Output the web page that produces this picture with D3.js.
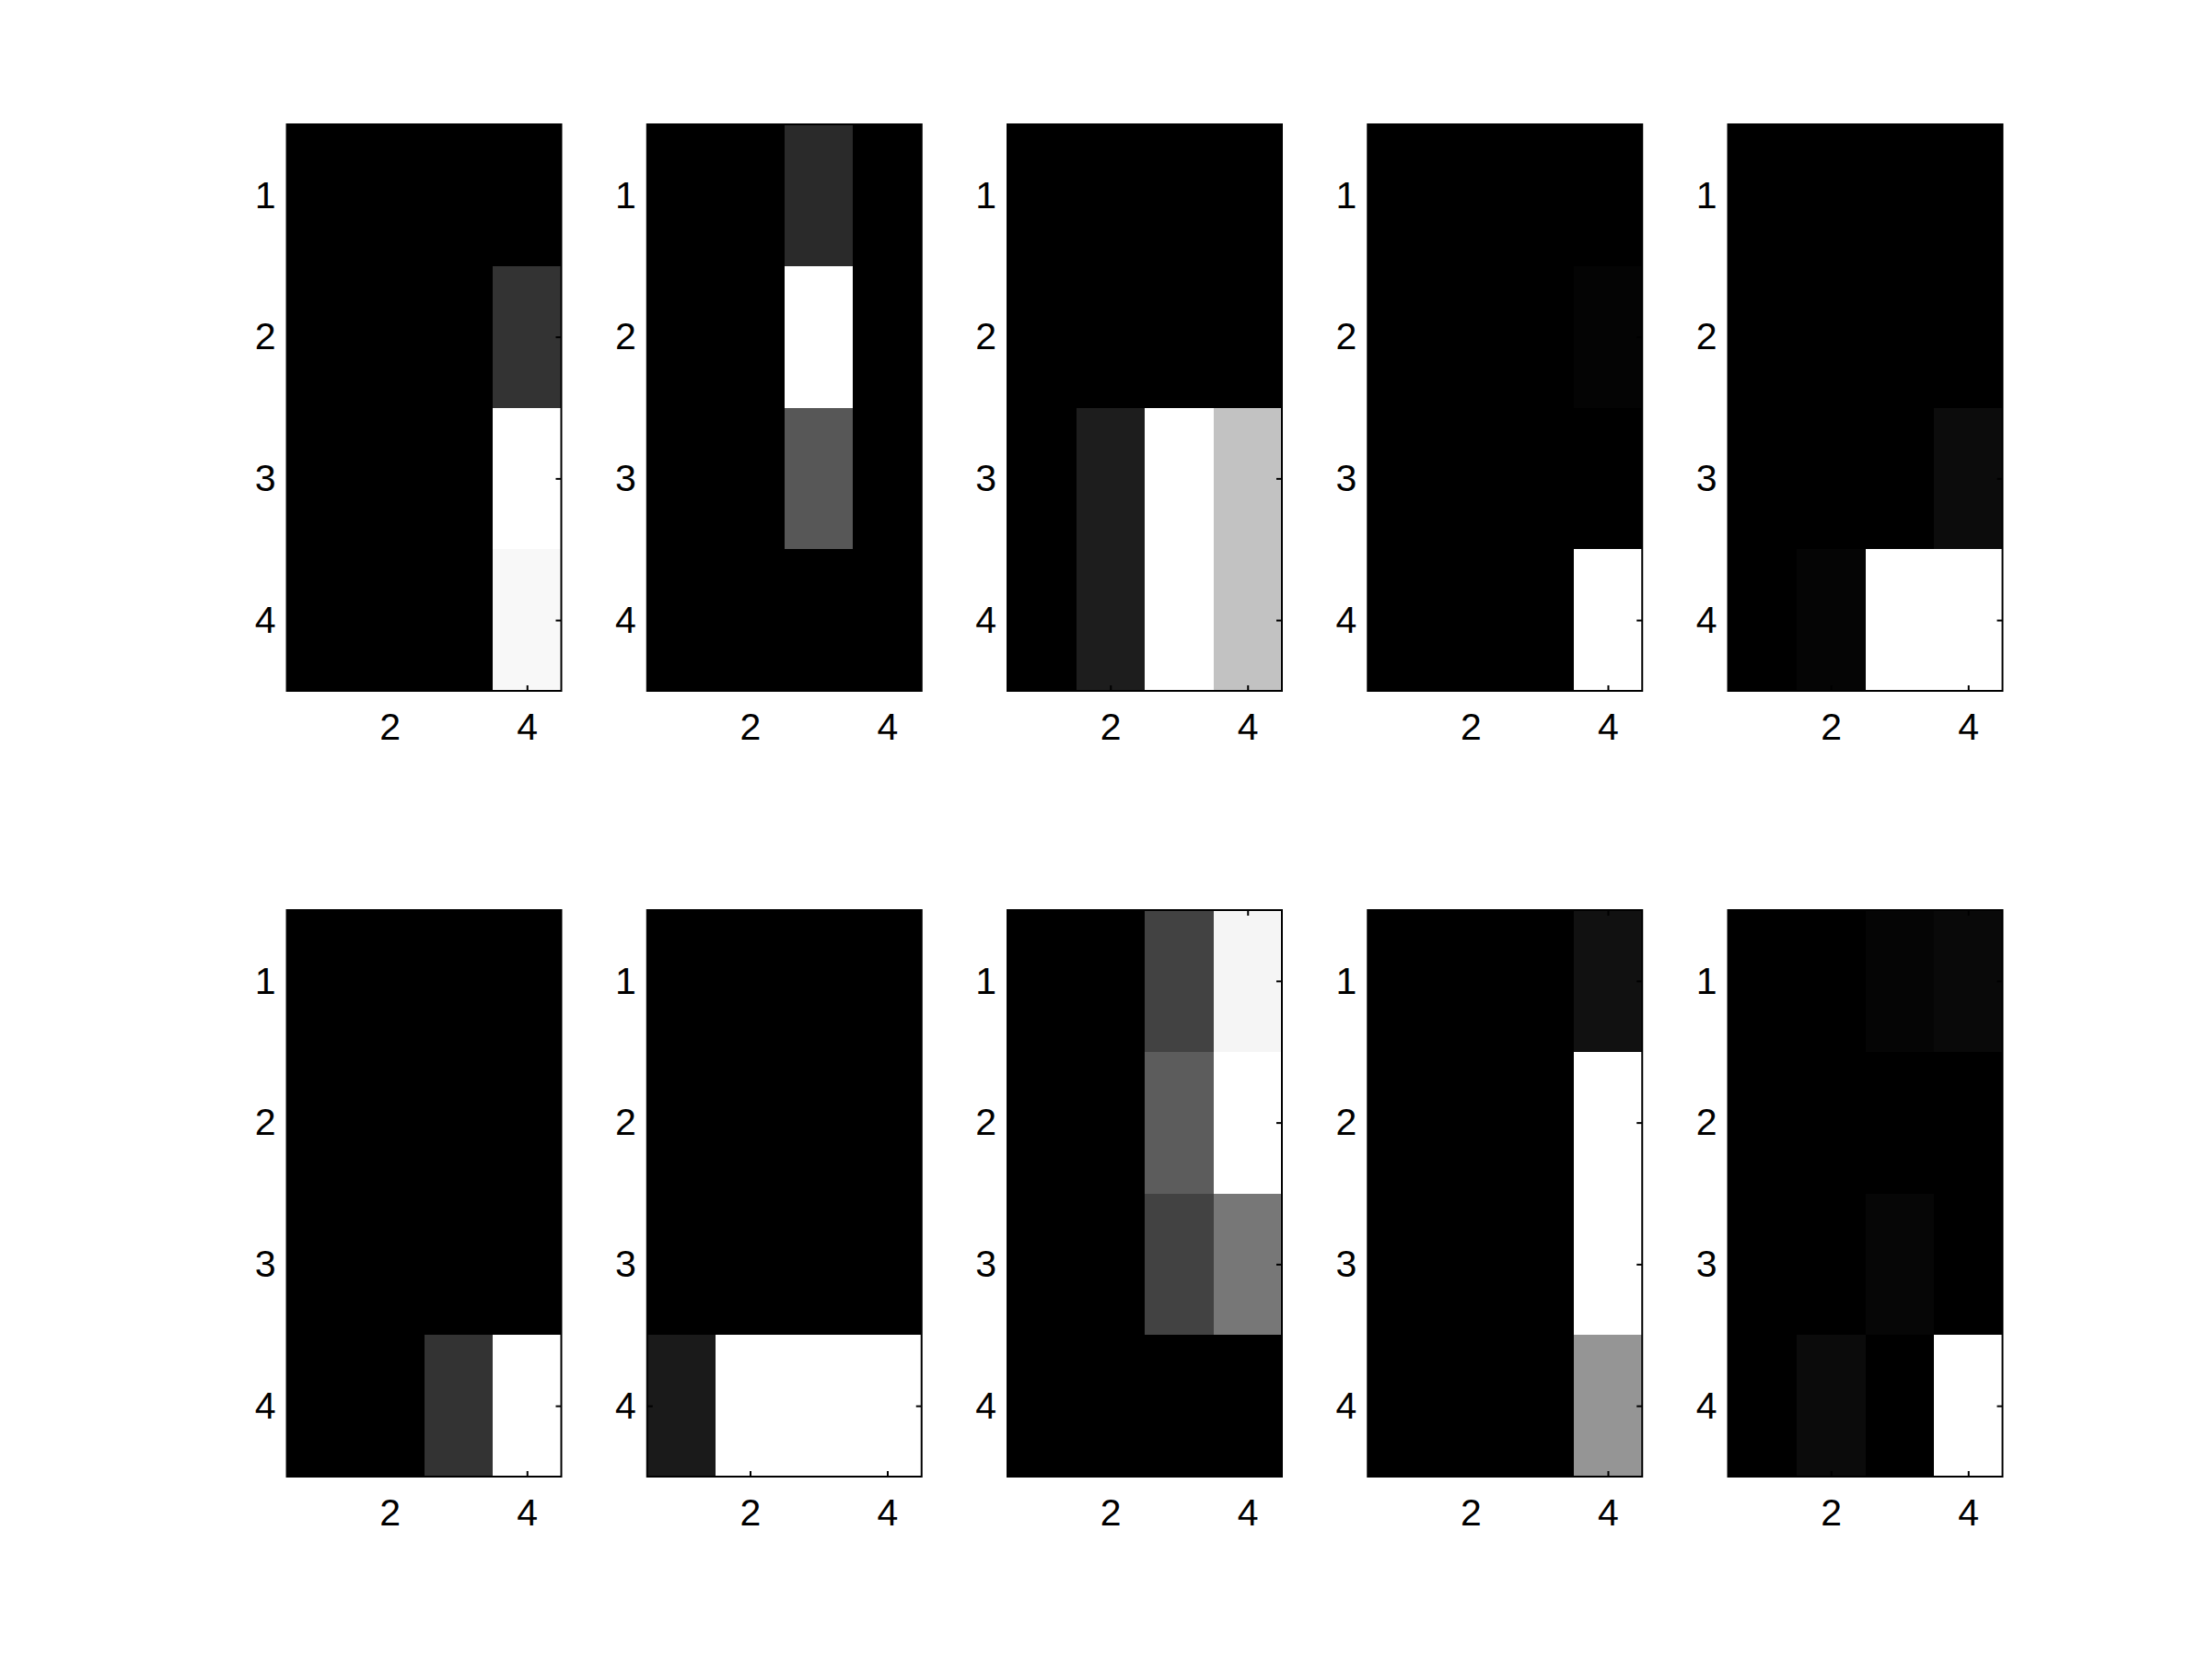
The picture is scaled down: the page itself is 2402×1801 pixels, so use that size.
<!DOCTYPE html>
<html>
<head>
<meta charset="utf-8">
<script src="https://cdn.jsdelivr.net/npm/d3@7"></script>
<style>
  html, body { margin: 0; padding: 0; background: #ffffff; }
  svg { display: block; }
  text { font-family: "Liberation Sans", Arial, Helvetica, sans-serif; }
</style>
</head>
<body>
<svg id="chart" width="2402" height="1801"></svg>
<script>
// Tick labels
const xTicks = [2, 4];
const yTicks = [1, 2, 3, 4];

// Gray intensities (0 = black, 1 = white), rows 1..4 top to bottom, columns 1..4
const panel1 = [[0,0,0,0],[0,0,0,0.2],[0,0,0,1],[0,0,0,0.973]];
const panel2 = [[0,0,0.165,0],[0,0,1,0],[0,0,0.34,0],[0,0,0,0]];
const panel3 = [[0,0,0,0],[0,0,0,0],[0,0.114,1,0.76],[0,0.114,1,0.76]];
const panel4 = [[0,0,0,0],[0,0,0,0.016],[0,0,0,0],[0,0,0,1]];
const panel5 = [[0,0,0,0],[0,0,0,0],[0,0,0,0.047],[0,0.02,1,1]];
const panel6 = [[0,0,0,0],[0,0,0,0],[0,0,0,0],[0,0,0.2,1]];
const panel7 = [[0,0,0,0],[0,0,0,0],[0,0,0,0],[0.1,1,1,1]];
const panel8 = [[0,0,0.26,0.96],[0,0,0.36,1],[0,0,0.26,0.467],[0,0,0,0]];
const panel9 = [[0,0,0,0.067],[0,0,0,1],[0,0,0,1],[0,0,0,0.585]];
const panel10 = [[0,0,0.02,0.035],[0,0,0,0],[0,0,0.024,0],[0,0.043,0,1]];

const panels = [panel1, panel2, panel3, panel4, panel5, panel6, panel7, panel8, panel9, panel10];

// Layout (MATLAB-like subplot grid 2 x 5)
const W = 2402, H = 1801;
const axW = 298, axH = 615;
const left0 = 311.5, colStep = 391.25;
const rowTops = [135, 988];
const tickLen = 6;
const fontSize = 41;

const svg = d3.select("#chart");

panels.forEach((m, i) => {
  const r = Math.floor(i / 5), c = i % 5;
  const gx = left0 + c * colStep, gy = rowTops[r];
  const g = svg.append("g").attr("transform", `translate(${gx},${gy})`);

  const x = d3.scaleLinear().domain([0.5, 4.5]).range([0, axW]);
  const y = d3.scaleLinear().domain([0.5, 4.5]).range([0, axH]);
  const flat = m.flat();
  const color = d3.scaleLinear()
    .domain([d3.min(flat), d3.max(flat)])
    .range(["#000000", "#ffffff"]);

  const cells = [];
  m.forEach((row, ri) => row.forEach((v, ci) => cells.push({ row: ri + 1, col: ci + 1, v })));

  g.selectAll("rect.cell").data(cells).join("rect")
    .attr("class", "cell")
    .attr("x", d => x(d.col - 0.5))
    .attr("y", d => y(d.row - 0.5))
    .attr("width", x(1.5) - x(0.5))
    .attr("height", y(1.5) - y(0.5))
    .attr("fill", d => color(d.v))
    .attr("shape-rendering", "crispEdges");

  const styleAxis = sel => {
    sel.select(".domain").remove();
    sel.selectAll(".tick line").attr("stroke", "#000").attr("stroke-width", 2);
    sel.selectAll("text").attr("fill", "#000").style("font-size", fontSize + "px")
      .attr("font-family", "'Liberation Sans', Arial, Helvetica, sans-serif");
  };

  // bottom axis with labels
  g.append("g").attr("transform", `translate(0,${axH})`)
    .call(d3.axisBottom(x).tickValues(xTicks).tickSize(-tickLen).tickPadding(24).tickFormat(d3.format("d")))
    .call(styleAxis);
  // top axis, ticks only
  g.append("g")
    .call(d3.axisTop(x).tickValues(xTicks).tickSize(-tickLen).tickFormat(""))
    .call(styleAxis);
  // left axis with labels
  g.append("g")
    .call(d3.axisLeft(y).tickValues(yTicks).tickSize(-tickLen).tickPadding(12).tickFormat(d3.format("d")))
    .call(styleAxis);
  // right axis, ticks only
  g.append("g").attr("transform", `translate(${axW},0)`)
    .call(d3.axisRight(y).tickValues(yTicks).tickSize(-tickLen).tickFormat(""))
    .call(styleAxis);

  // box
  g.append("rect")
    .attr("x", 0).attr("y", 0).attr("width", axW).attr("height", axH)
    .attr("fill", "none").attr("stroke", "#000").attr("stroke-width", 2);
});
</script>
</body>
</html>
